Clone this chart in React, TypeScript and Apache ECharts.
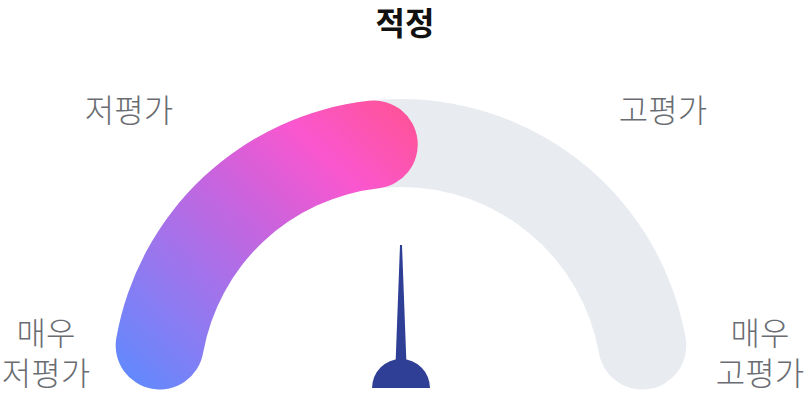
import React, { useEffect, useRef } from 'react';
import * as echarts from 'echarts';

// 값
const verdict = '적정';
const progressValue = 46;
const pointerValue = 50;
const gaugeRange = [0, 100];
const zoneLabels = ['매우\n저평가', '저평가', '고평가', '매우\n고평가'];

// 라벨 위치 (px)
const labelPos = [
  [46, 351],
  [129, 108],
  [663, 108],
  [760, 351],
];

// 바늘 + 반원 받침
const needlePath =
  'path://M28,0 L30,0 L34.5,120 L23.5,120 Z M0,143 A29,29 0 0 1 58,143 Z';

function GaugeChart() {
  const chartRef = useRef<HTMLDivElement>(null);

  useEffect(() => {
    document.body.style.margin = '0';
    if (!chartRef.current) return;
    const chart = echarts.init(chartRef.current, null, { renderer: 'svg' });

    const common = {
      type: 'gauge',
      center: [401, 388],
      radius: 289,
      startAngle: 170,
      endAngle: 10,
      min: gaugeRange[0],
      max: gaugeRange[1],
      axisTick: { show: false },
      splitLine: { show: false },
      axisLabel: { show: false },
      title: { show: false },
      detail: { show: false },
      anchor: { show: false },
    };

    chart.setOption({
      animation: false,
      title: {
        text: verdict,
        left: 'center',
        top: 5,
        padding: 0,
        textStyle: {
          fontFamily: 'Noto Sans CJK KR',
          fontSize: 32,
          fontWeight: 'bold',
          color: '#111111',
        },
      },
      graphic: zoneLabels.map((t, i) => ({
        type: 'text',
        x: labelPos[i][0],
        y: labelPos[i][1],
        style: {
          text: t,
          fontFamily: 'Noto Sans CJK KR',
          fontSize: 32,
          fontWeight: 300,
          lineHeight: 40,
          fill: '#696c71',
          align: 'center',
          verticalAlign: 'middle',
        },
      })),
      series: [
        {
          ...common,
          axisLine: {
            roundCap: true,
            lineStyle: { width: 88, color: [[1, '#e8ebf0']] },
          },
          progress: {
            show: true,
            roundCap: true,
            width: 88,
            itemStyle: {
              color: new echarts.graphic.LinearGradient(0, 1, 1, 0, [
                { offset: 0, color: '#5a8cff' },
                { offset: 0.3, color: '#9a76ee' },
                { offset: 0.55, color: '#cc62dc' },
                { offset: 0.75, color: '#fa57cf' },
                { offset: 1, color: '#ff5290' },
              ]),
            },
          },
          pointer: { show: false },
          data: [{ value: progressValue }],
        },
        {
          ...common,
          axisLine: { show: false },
          progress: { show: false },
          pointer: {
            show: true,
            icon: needlePath,
            length: 143,
            width: 58,
            offsetCenter: [0, 0],
            itemStyle: { color: '#2e3f95' },
          },
          data: [{ value: pointerValue }],
        },
      ],
    });

    return () => {
      chart.dispose();
    };
  }, []);

  return <div ref={chartRef} style={{ width: 810, height: 420 }} />;
}

export default function App() {
  return <GaugeChart />;
}
